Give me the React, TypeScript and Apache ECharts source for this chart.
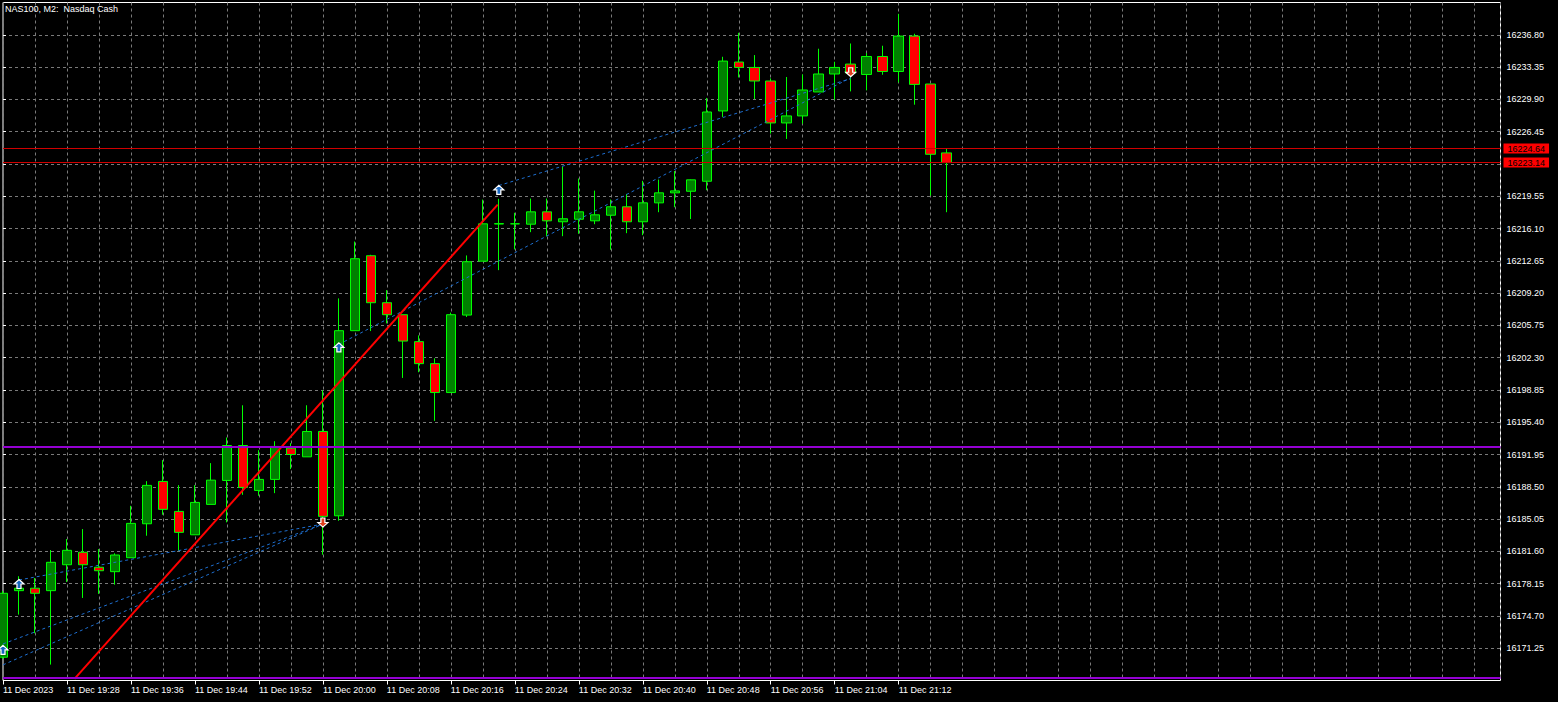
import React, { useEffect, useRef } from 'react';
import * as echarts from 'echarts';

// ---- Data ----
const tickIdx = [0, 4, 8, 12, 16, 20, 24, 28, 32, 36, 40, 44, 48, 52, 56];
const tickLabels = [
  '11 Dec 2023', '11 Dec 19:28', '11 Dec 19:36', '11 Dec 19:44', '11 Dec 19:52',
  '11 Dec 20:00', '11 Dec 20:08', '11 Dec 20:16', '11 Dec 20:24', '11 Dec 20:32',
  '11 Dec 20:40', '11 Dec 20:48', '11 Dec 20:56', '11 Dec 21:04', '11 Dec 21:12',
];
const priceTicks = [
  16171.25, 16174.70, 16178.15, 16181.60, 16185.05, 16188.50, 16191.95, 16195.40,
  16198.85, 16202.30, 16205.75, 16209.20, 16212.65, 16216.10, 16219.55, 16223.00,
  16226.45, 16229.90, 16233.35, 16236.80,
];

const opens = [
  16170.29, 16177.40, 16177.66, 16177.40, 16180.17, 16181.50, 16179.90, 16179.43, 16180.92, 16184.55,
  16189.07, 16185.87, 16183.37, 16186.62, 16189.18, 16192.91, 16188.11, 16189.29, 16192.63, 16191.70,
  16194.41, 16185.40, 16205.18, 16213.19, 16208.17, 16206.89, 16204.01, 16201.66, 16198.57, 16206.85,
  16212.61, 16216.58, 16216.60, 16216.56, 16217.88, 16216.82, 16217.09, 16216.92, 16217.52, 16218.42,
  16216.82, 16218.84, 16219.91, 16220.08, 16221.15, 16228.66, 16233.89, 16233.31, 16231.86, 16227.38,
  16228.13, 16230.69, 16232.61, 16233.67, 16232.56, 16234.48, 16232.88, 16236.66, 16231.54, 16224.18,
];
const closes = [
  16177.12, 16177.66, 16177.12, 16180.43, 16181.71, 16180.17, 16179.53, 16181.21, 16184.59, 16188.65,
  16186.09, 16183.63, 16186.83, 16189.21, 16192.91, 16188.43, 16189.29, 16192.81, 16191.95, 16194.41,
  16185.34, 16205.18, 16212.87, 16208.17, 16206.89, 16204.07, 16201.66, 16198.57, 16206.89, 16212.55,
  16216.60, 16216.62, 16216.60, 16217.88, 16216.92, 16217.14, 16217.88, 16217.56, 16218.42, 16216.82,
  16218.84, 16219.91, 16220.12, 16221.30, 16228.55, 16233.99, 16233.31, 16231.86, 16227.38, 16228.13,
  16230.90, 16232.61, 16233.31, 16232.71, 16234.48, 16232.88, 16236.66, 16231.50, 16224.03, 16223.14,
];
const lows = [
  16170.11, 16174.84, 16172.85, 16169.50, 16178.33, 16176.62, 16177.05, 16178.04, 16180.92, 16183.27,
  16185.51, 16181.67, 16183.37, 16186.62, 16184.70, 16187.64, 16187.54, 16187.82, 16190.39, 16191.70,
  16181.24, 16184.87, 16205.18, 16205.14, 16205.96, 16200.13, 16200.74, 16195.54, 16198.57, 16206.64,
  16212.61, 16211.65, 16213.86, 16215.71, 16215.28, 16215.28, 16215.53, 16216.56, 16213.83, 16215.60,
  16215.39, 16217.84, 16218.37, 16217.11, 16220.19, 16228.02, 16232.24, 16229.94, 16226.24, 16225.67,
  16227.30, 16230.69, 16229.86, 16230.75, 16230.86, 16232.53, 16231.71, 16229.33, 16219.62, 16217.84,
];
const highs = [
  16177.37, 16178.94, 16178.76, 16181.74, 16182.92, 16183.98, 16181.85, 16181.39, 16186.47, 16189.10,
  16191.35, 16188.68, 16188.68, 16191.03, 16193.77, 16197.21, 16192.41, 16193.37, 16193.16, 16197.21,
  16198.81, 16208.63, 16214.71, 16213.29, 16209.52, 16206.89, 16204.68, 16202.23, 16207.11, 16213.22,
  16219.19, 16219.27, 16217.78, 16219.30, 16219.30, 16222.72, 16221.44, 16220.15, 16219.19, 16219.80,
  16221.19, 16221.33, 16222.24, 16221.33, 16230.05, 16234.45, 16237.01, 16234.63, 16232.14, 16232.29,
  16232.56, 16235.31, 16233.92, 16235.87, 16234.85, 16235.63, 16239.04, 16236.91, 16231.54, 16224.60,
];

// trade markers [bar, price]
const buyMarks = [[0, 16171.07], [1, 16178.11], [21, 16203.40], [31, 16220.23]];
const sellMarks = [[20, 16184.68], [53, 16232.80]];

// trade connection lines [[bar, price], [bar, price]]
const tradeLines = [
  [[0, 16171.71], [20, 16184.52]],
  [[0, 16169.47], [20, 16184.52]],
  [[1, 16178.54], [20, 16184.52]],
  [[21, 16203.72], [53, 16232.21]],
  [[31, 16220.69], [53, 16232.11]],
];
// trend line
const trendLine = [[4.47, 16167.98], [30.93, 16218.66]];
// horizontal levels
const purpleLevels = [16192.76, 16168.08];
const priceLevels = [16224.64, 16223.14];

const FONT = 'Liberation Sans';

export default function App() {
  const ref = useRef<HTMLDivElement>(null);
  useEffect(() => {
    const chart = echarts.init(ref.current as HTMLDivElement, null, { renderer: 'svg' });
    const candleData = opens.map((o, i) => [i, o, closes[i], lows[i], highs[i]]);
    const xMin = 0;
    const xMax = 1498 / 16;
    const series: any[] = [
      {
        type: 'line',
        data: [],
        silent: true,
        z: 1,
        markLine: {
          silent: true,
          symbol: ['none', 'none'],
          label: { show: false },
          lineStyle: { color: '#9400D3', width: 2, type: 'solid' },
          data: purpleLevels.map((v) => ({ yAxis: v })),
        },
      },
      {
        type: 'line',
        data: [],
        silent: true,
        z: 1,
        markLine: {
          silent: true,
          symbol: ['none', 'none'],
          lineStyle: { color: '#D00000', width: 1, type: 'solid' },
          label: {
            show: true,
            position: 'end',
            distance: 3,
            formatter: (p: any) => Number(p.value).toFixed(2),
            backgroundColor: '#FF0000',
            color: '#000',
            fontFamily: FONT,
            fontSize: 9,
            lineHeight: 10,
            padding: [0, 4, 0, 4],
          },
          data: priceLevels.map((v) => ({ yAxis: v })),
        },
      },
      {
        type: 'candlestick',
        data: candleData,
        barWidth: 10,
        z: 3,
        itemStyle: {
          color: '#008000',
          color0: '#FF0000',
          borderColor: '#00FF00',
          borderColor0: '#00FF00',
          borderWidth: 1,
        },
      },
      ...tradeLines.map((ln) => ({
        type: 'line',
        data: ln,
        symbol: 'none',
        silent: true,
        z: 4,
        lineStyle: { color: '#1E6FD0', width: 1, type: [3, 3] },
      })),
      {
        type: 'line',
        data: trendLine,
        symbol: 'none',
        silent: true,
        z: 4,
        lineStyle: { color: '#FF0000', width: 2 },
      },
      {
        type: 'scatter',
        data: buyMarks,
        symbol: 'path://M5,0 L10,5 L7,5 L7,10 L3,10 L3,5 L0,5 Z',
        symbolSize: [10, 9],
        z: 5,
        itemStyle: { color: '#1565C0', borderColor: '#fff', borderWidth: 1.2, opacity: 1 },
      },
      {
        type: 'scatter',
        data: sellMarks,
        symbol: 'path://M3,0 L7,0 L7,5 L10,5 L5,10 L0,5 L3,5 Z',
        symbolSize: [10, 9],
        z: 5,
        itemStyle: { color: '#E0401E', borderColor: '#fff', borderWidth: 1.2, opacity: 1 },
      },
    ];

    const option: any = {
      animation: false,
      backgroundColor: '#000',
      textStyle: { fontFamily: FONT },
      title: {
        text: 'NAS100, M2:  Nasdaq Cash',
        left: 5,
        top: 4,
        padding: 0,
        textStyle: { color: '#fff', fontSize: 9, fontWeight: 'normal', fontFamily: FONT },
      },
      grid: {
        left: 2.5,
        top: 2.5,
        width: 1498,
        height: 678,
        show: true,
        borderColor: '#fff',
        borderWidth: 1,
        backgroundColor: '#000',
        containLabel: false,
      },
      xAxis: [
        {
          type: 'value',
          min: xMin,
          max: xMax,
          interval: 4,
          position: 'bottom',
          axisLine: { show: false },
          axisTick: { show: true, length: 4, inside: false, lineStyle: { color: '#fff' }, customValues: tickIdx },
          axisLabel: {
            customValues: tickIdx,
            formatter: (v: number) => tickLabels[tickIdx.indexOf(Math.round(v))] || '',
            color: '#fff',
            fontSize: 9,
            fontFamily: FONT,
            align: 'left',
            margin: 5,
          },
          splitLine: { show: false },
        },
        {
          type: 'value',
          min: xMin,
          max: xMax,
          interval: 2,
          position: 'top',
          axisLine: { show: false },
          axisTick: { show: false },
          axisLabel: { show: false },
          splitLine: { show: true, lineStyle: { color: '#7a7a7a', width: 1, type: [3, 3] } },
        },
      ],
      yAxis: {
        type: 'value',
        position: 'right',
        min: 16167.8,
        max: 16240.25,
        interval: 3.45,
        scale: true,
        axisLine: { show: false },
        axisTick: { show: true, length: 3, inside: false, lineStyle: { color: '#fff' }, customValues: priceTicks },
        axisLabel: {
          customValues: priceTicks,
          formatter: (v: number) => v.toFixed(2),
          color: '#fff',
          fontSize: 9,
          fontFamily: FONT,
          margin: 6,
          align: 'left',
        },
        splitLine: { show: true, lineStyle: { color: '#7a7a7a', width: 1, type: [3, 3] } },
      },
      series,
    };
    chart.setOption(option);
    return () => chart.dispose();
  }, []);
  return (
    <div
      ref={ref}
      style={{ position: 'fixed', left: 0, top: 0, width: 1558, height: 702, background: '#000' }}
    />
  );
}
